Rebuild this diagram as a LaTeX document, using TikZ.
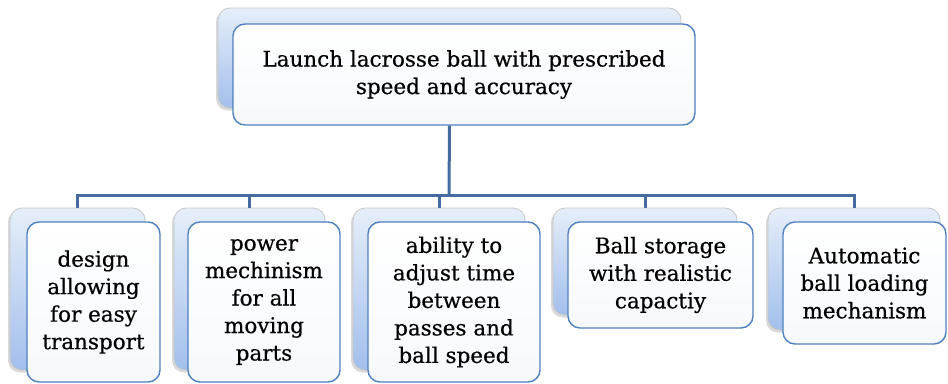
\documentclass[tikz,border=0pt]{standalone}
\usepackage{fontspec}
\setmainfont{DejaVu Serif}
\newfontfamily\boxfont{DejaVu Serif}[FakeBold=0.5]
\usetikzlibrary{shadows}
\definecolor{bord}{RGB}{79,129,189}
\definecolor{conn}{RGB}{68,108,160}
\definecolor{backtop}{RGB}{230,238,249}
\definecolor{backbot}{RGB}{162,191,236}
\definecolor{frontfill}{RGB}{246,249,252}
\tikzset{
  backbox/.style={rounded corners=12pt, draw=gray!45, line width=0.8pt,
    top color=backtop, bottom color=backbot,
    drop shadow={shadow xshift=-2pt, shadow yshift=-2.5pt, opacity=.3},
    inner sep=0pt},
  frontbox/.style={rounded corners=12pt, draw=bord, line width=1.4pt,
    top color=white, bottom color=frontfill, align=center, inner sep=0pt,
    font=\boxfont\fontsize{21.5}{27.5}\selectfont},
  connline/.style={draw=conn, line width=3pt, line join=miter}
}
\begin{document}
\begin{tikzpicture}[x=1pt,y=-1pt]
\useasboundingbox (0,0) rectangle (948,383);
% top
\node[backbox, minimum width=463pt, minimum height=100pt] (tb) at (449.5,58) {};
\node[frontbox, minimum width=462pt, minimum height=101pt] (tf) at (464,74.5)
  {Launch lacrosse ball with prescribed\\speed and accuracy};
% bottom back boxes
\node[backbox, minimum width=135pt, minimum height=162pt] (b1) at (77.5,289) {};
\node[backbox, minimum width=151pt, minimum height=162pt] (b2) at (249.5,289) {};
\node[backbox, minimum width=172pt, minimum height=162pt] (b3) at (439,289) {};
\node[backbox, minimum width=184pt, minimum height=107pt] (b4) at (645,261.5) {};
\node[backbox, minimum width=172pt, minimum height=122pt] (b5) at (854,269) {};
% front boxes
\node[frontbox, minimum width=133pt, minimum height=160pt] (f1) at (93.5,302)
  {design\\allowing\\for easy\\transport};
\node[frontbox, minimum width=152pt, minimum height=160pt] (f2) at (264,302)
  {power\\mechinism\\for all\\moving\\parts};
\node[frontbox, minimum width=172pt, minimum height=160pt] (f3) at (454,302)
  {ability to\\adjust time\\between\\passes and\\ball speed};
\node[frontbox, minimum width=185pt, minimum height=106pt] (f4) at (660.5,275)
  {Ball storage\\with realistic\\capactiy};
\node[frontbox, minimum width=163pt, minimum height=122pt] (f5) at (864.5,283)
  {Automatic\\ball loading\\mechanism};
% connectors
\coordinate (bus) at (449,195);
\draw[connline] (tb.south |- tf.south) -- (bus);
\draw[connline] (b1.north) |- (bus) -| (b5.north);
\draw[connline] (b2.north |- bus) -- (b2.north);
\draw[connline] (b3.north |- bus) -- (b3.north);
\draw[connline] (b4.north |- bus) -- (b4.north);
\end{tikzpicture}
\end{document}
